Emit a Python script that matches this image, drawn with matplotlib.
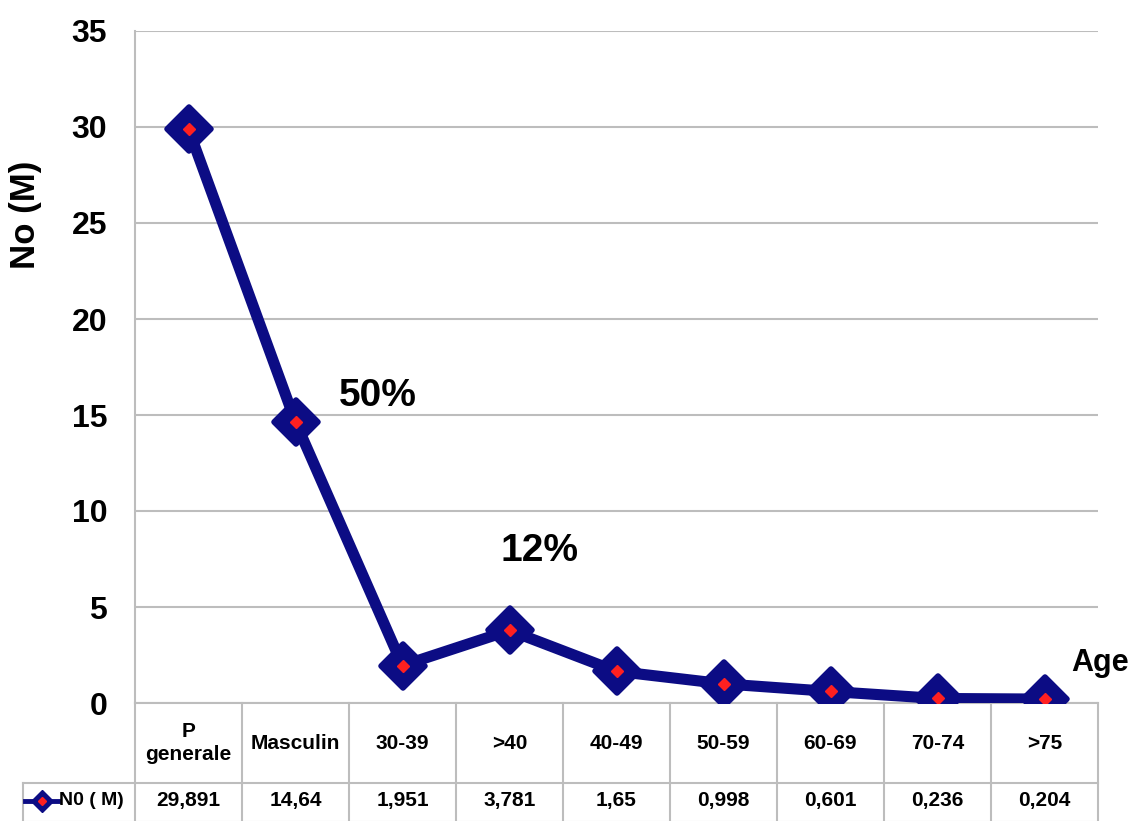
import matplotlib
matplotlib.use("Agg")
import matplotlib.pyplot as plt
from matplotlib.markers import MarkerStyle

plt.rcParams['font.family'] = ['Liberation Sans', 'DejaVu Sans']

categories = ["P\ngenerale", "Masculin", "30-39", ">40", "40-49", "50-59", "60-69", "70-74", ">75"]
values = [29.891, 14.64, 1.951, 3.781, 1.65, 0.998, 0.601, 0.236, 0.204]
value_labels = ["29,891", "14,64", "1,951", "3,781", "1,65", "0,998", "0,601", "0,236", "0,204"]
series_name = "N0 ( M)"
yticks = [0, 5, 10, 15, 20, 25, 30, 35]

navy = "#0c0c84"
red = "#ff2020"
grid = "#bdbdbd"

W, H = 1136, 821
fig = plt.figure(figsize=(W / 100, H / 100), dpi=100)
ax = fig.add_axes([135 / W, (H - 703) / H, (1098 - 135) / W, (703 - 31) / H])

x = list(range(len(values)))
diamond = MarkerStyle('D', joinstyle='round')
ax.plot(x, values, color=navy, lw=8, solid_joinstyle='round', solid_capstyle='round',
        marker=diamond, ms=22, mfc=navy, mec=navy, mew=4, zorder=3)
ax.plot(x, values, ls='none', marker='D', ms=6, color=red, zorder=4)

ax.set_xlim(-0.5, len(values) - 0.5)
ax.set_ylim(0, 35)
ax.set_yticks(yticks)
ax.set_yticklabels([str(v) for v in yticks], fontsize=23, fontweight='bold')
ax.tick_params(axis='y', length=0, pad=20)
ax.set_xticks([])
ax.yaxis.grid(True, color=grid, lw=1.5)
ax.set_axisbelow(True)
for s in ['top', 'right', 'bottom']:
    ax.spines[s].set_visible(False)
ax.spines['left'].set_color(grid)
ax.spines['left'].set_linewidth(1.5)

# percentage notes and axis names
ax.text(1.77, 16.0, "50%", fontsize=28, fontweight='bold', ha='center', va='center')
ax.text(3.28, 7.9, "12%", fontsize=28, fontweight='bold', ha='center', va='center')
ax.text(8.52, 2.1, "Age", fontsize=22, fontweight='bold', ha='center', va='center', clip_on=False)
fig.text(25 / W, 1 - 215 / H, "No (M)", rotation=90, fontsize=25, fontweight='bold',
         ha='center', va='center')

# data table under the axis
tr = ax.get_xaxis_transform()
px = 1 / (703 - 31)
y_top, y_mid, y_bot = 0, -(783 - 703) * px, -(822 - 703) * px
lk = dict(color=grid, lw=1.5, transform=tr, clip_on=False)
for i in range(len(values) + 1):
    ax.plot([i - 0.5, i - 0.5], [y_top, y_bot], **lk)
ax.plot([-0.5, len(values) - 0.5], [y_top, y_top], **lk)
x_leg = -0.5 - (135 - 23) / 107
ax.plot([x_leg, len(values) - 0.5], [y_mid, y_mid], **lk)
ax.plot([x_leg, len(values) - 0.5], [y_bot, y_bot], **lk)
ax.plot([x_leg, x_leg], [y_mid, y_bot], **lk)

ky = (y_mid + y_bot) / 2 + 2 * px
for i, (c, v) in enumerate(zip(categories, value_labels)):
    ax.text(i, (y_top + y_mid) / 2, c, transform=tr, ha='center', va='center',
            fontsize=15, fontweight='bold', linespacing=1.3, clip_on=False)
    ax.text(i, ky, v, transform=tr, ha='center', va='center',
            fontsize=15, fontweight='bold', clip_on=False)

# legend key in the table
ax.plot([x_leg + 0.02, x_leg + 0.33], [ky, ky], color=navy, lw=3.5, transform=tr, clip_on=False)
ax.plot([x_leg + 0.175], [ky], marker='D', ms=11, color=navy, transform=tr, clip_on=False)
ax.plot([x_leg + 0.175], [ky], marker='D', ms=4, color=red, transform=tr, clip_on=False)
ax.text(x_leg + 0.34, ky, series_name, transform=tr, ha='left', va='center',
        fontsize=14, fontweight='bold', clip_on=False)

fig.savefig("out.png", dpi=100, facecolor='white')
